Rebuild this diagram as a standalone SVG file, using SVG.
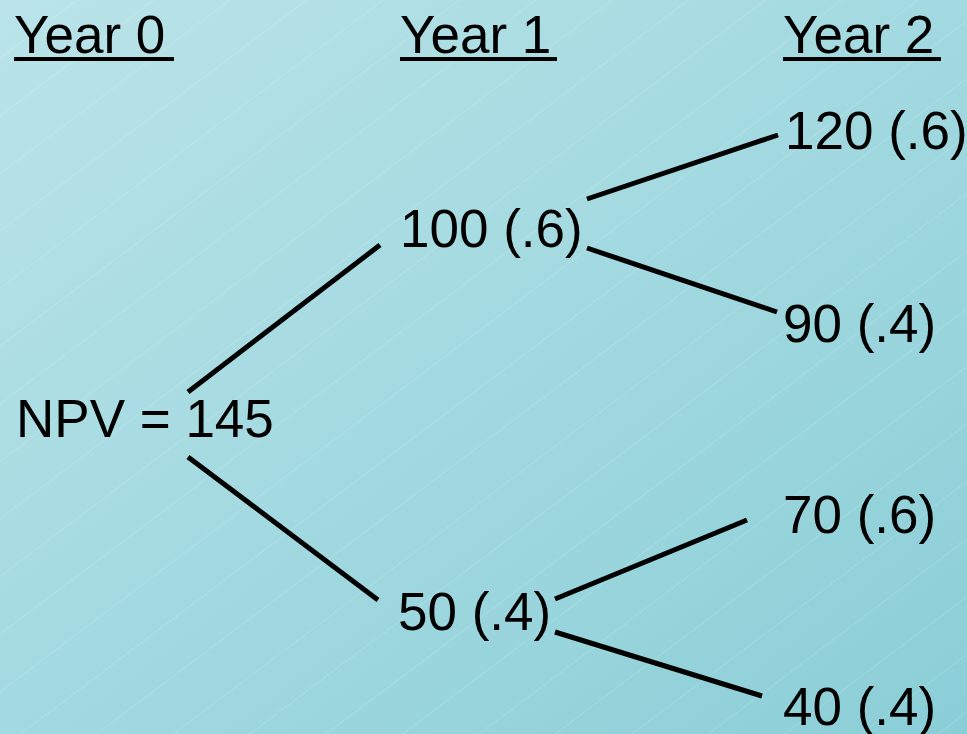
<svg xmlns="http://www.w3.org/2000/svg" width="967" height="734" viewBox="0 0 967 734">
<defs>
<linearGradient id="bg" x1="0" y1="0" x2="1" y2="1">
<stop offset="0" stop-color="#bae4e9"/>
<stop offset="1" stop-color="#8bced7"/>
</linearGradient>
<pattern id="hatch" width="60" height="46" patternUnits="userSpaceOnUse" patternTransform="rotate(-37)">
<line x1="0" y1="0.5" x2="60" y2="0.5" stroke="#ffffff" stroke-opacity="0.2" stroke-width="0.7"/>
</pattern>
</defs>
<style>
text{font-family:"Liberation Sans",Arial,sans-serif;font-size:53px;fill:#000}
.ul{stroke:#000;stroke-width:4}
.c line{stroke:#000;stroke-width:5;stroke-linecap:butt}
</style>
<rect width="967" height="734" fill="url(#bg)"/>
<rect width="967" height="734" fill="url(#hatch)"/>
<g id="headers">
<text x="14" y="53">Year 0</text><line class="ul" x1="14" y1="59" x2="174" y2="59"/>
<text x="400" y="53">Year 1</text><line class="ul" x1="400" y1="59" x2="557" y2="59"/>
<text x="783" y="53">Year 2</text><line class="ul" x1="783" y1="59" x2="941" y2="59"/>
</g>
<g class="c" id="connectors">
<line x1="188" y1="392" x2="380" y2="245"/>
<line x1="188" y1="457" x2="378" y2="600"/>
<line x1="587" y1="199" x2="778" y2="135"/>
<line x1="587" y1="248" x2="777" y2="312"/>
<line x1="555" y1="599" x2="747" y2="520"/>
<line x1="555" y1="632" x2="762" y2="696"/>
</g>
<g id="n0"><text x="16" y="437">NPV = 145</text></g>
<g id="n1"><text x="400" y="247">100 (.6)</text></g>
<g id="n2"><text x="398" y="630">50 (.4)</text></g>
<g id="n3"><text x="785" y="149">120 (.6)</text></g>
<g id="n4"><text x="783" y="342">90 (.4)</text></g>
<g id="n5"><text x="783" y="533">70 (.6)</text></g>
<g id="n6"><text x="783" y="725">40 (.4)</text></g>
</svg>
